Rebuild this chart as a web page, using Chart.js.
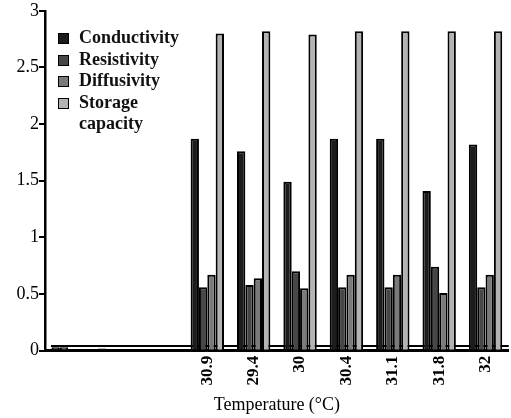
<!DOCTYPE html>
<html lang=en>

<head>
    <meta charset=UTF-8>
    <title>Thermal properties</title>
    <script src="https://cdn.jsdelivr.net/npm/chart.js"></script>
    <style>
        * {
            margin: 0;
            padding: 0;
        }

        body {
            background: #fff;
            font-family: "Liberation Serif", serif;
        }

        .wrap {
            position: relative;
            width: 511px;
            height: 418px;
        }

        #legend {
            position: absolute;
            left: 58px;
            top: 27px;
            font-size: 18px;
            font-weight: bold;
            line-height: 21.5px;
            color: #111;
        }

        #legend div {
            display: flex;
        }

        #legend span.box {
            display: inline-block;
            width: 9px;
            height: 9px;
            border: 1.5px solid #000;
            margin: 6px 10px 0 0;
            flex: none;
        }
    </style>
</head>

<body>
    <div class=wrap>
        <canvas id="myChart" width="511" height="418"></canvas>
        <div id="legend"></div>
    </div>
    <script>
        const labels = ['', '', '', '30.9', '29.4', '30', '30.4', '31.1', '31.8', '32']
        const conductivity = [0.03, 0.02, null, 1.87, 1.76, 1.49, 1.87, 1.87, 1.41, 1.82]
        const resistivity = [0.03, null, null, 0.56, 0.58, 0.70, 0.56, 0.56, 0.74, 0.56]
        const diffusivity = [null, null, null, 0.67, 0.64, 0.55, 0.67, 0.67, 0.51, 0.67]
        const storage = [null, null, null, 2.80, 2.82, 2.79, 2.82, 2.82, 2.82, 2.82]
        const yTicks = [0, 0.5, 1, 1.5, 2, 2.5, 3]

        const series = [
            { name: 'Conductivity', data: conductivity, color: '#1c1c1c' },
            { name: 'Resistivity', data: resistivity, color: '#474747' },
            { name: 'Diffusivity', data: diffusivity, color: '#7a7a7a' },
            { name: 'Storage<br>capacity', data: storage, color: '#b3b3b3' }
        ]

        // the double "floor" line just above the axis
        const floorLine = {
            id: 'floorLine',
            beforeDatasetsDraw(chart) {
                const { ctx, chartArea, scales } = chart;
                const y = scales.y.getPixelForValue(0.04);
                ctx.save();
                ctx.strokeStyle = '#000';
                ctx.lineWidth = 2;
                ctx.beginPath();
                ctx.moveTo(chartArea.left + 6, y);
                ctx.lineTo(chartArea.right, y);
                ctx.stroke();
                ctx.restore();
            }
        }

        const font = { family: 'Liberation Serif', size: 18 }

        new Chart(document.getElementById('myChart'), {
            type: 'bar',
            data: {
                labels,
                datasets: series.map(s => ({
                    label: s.name,
                    data: s.data,
                    backgroundColor: s.color,
                    borderColor: '#000',
                    borderWidth: 2,
                    barPercentage: 1,
                    categoryPercentage: 0.72
                }))
            },
            options: {
                responsive: false,
                animation: false,
                layout: { padding: { top: 10, right: 1 } },
                plugins: {
                    legend: { display: false },
                    tooltip: { enabled: false }
                },
                scales: {
                    x: {
                        grid: { display: false, drawTicks: false },
                        border: { color: '#000', width: 3 },
                        ticks: {
                            color: '#000',
                            minRotation: 90,
                            maxRotation: 90,
                            padding: 5,
                            font: { family: 'Liberation Serif', size: 17, weight: 'bold' }
                        },
                        title: {
                            display: true,
                            text: 'Temperature (°C)',
                            color: '#000',
                            font,
                            padding: { top: 4, bottom: 2 }
                        }
                    },
                    y: {
                        min: 0,
                        max: 3,
                        afterBuildTicks: axis => { axis.ticks = yTicks.map(v => ({ value: v })) },
                        afterFit: axis => { axis.width = 45 },
                        grid: { display: true, drawOnChartArea: false, drawTicks: true, tickLength: 6, color: '#000', lineWidth: 2 },
                        border: { color: '#000', width: 2.5 },
                        ticks: {
                            color: '#000',
                            padding: 0,
                            font,
                            callback: v => String(v)
                        }
                    }
                }
            },
            plugins: [floorLine]
        });

        document.getElementById('legend').innerHTML = series.map(s =>
            `<div><span class="box" style="background:${s.color}"></span><span>${s.name}</span></div>`
        ).join('')
    </script>
</body>

</html>
